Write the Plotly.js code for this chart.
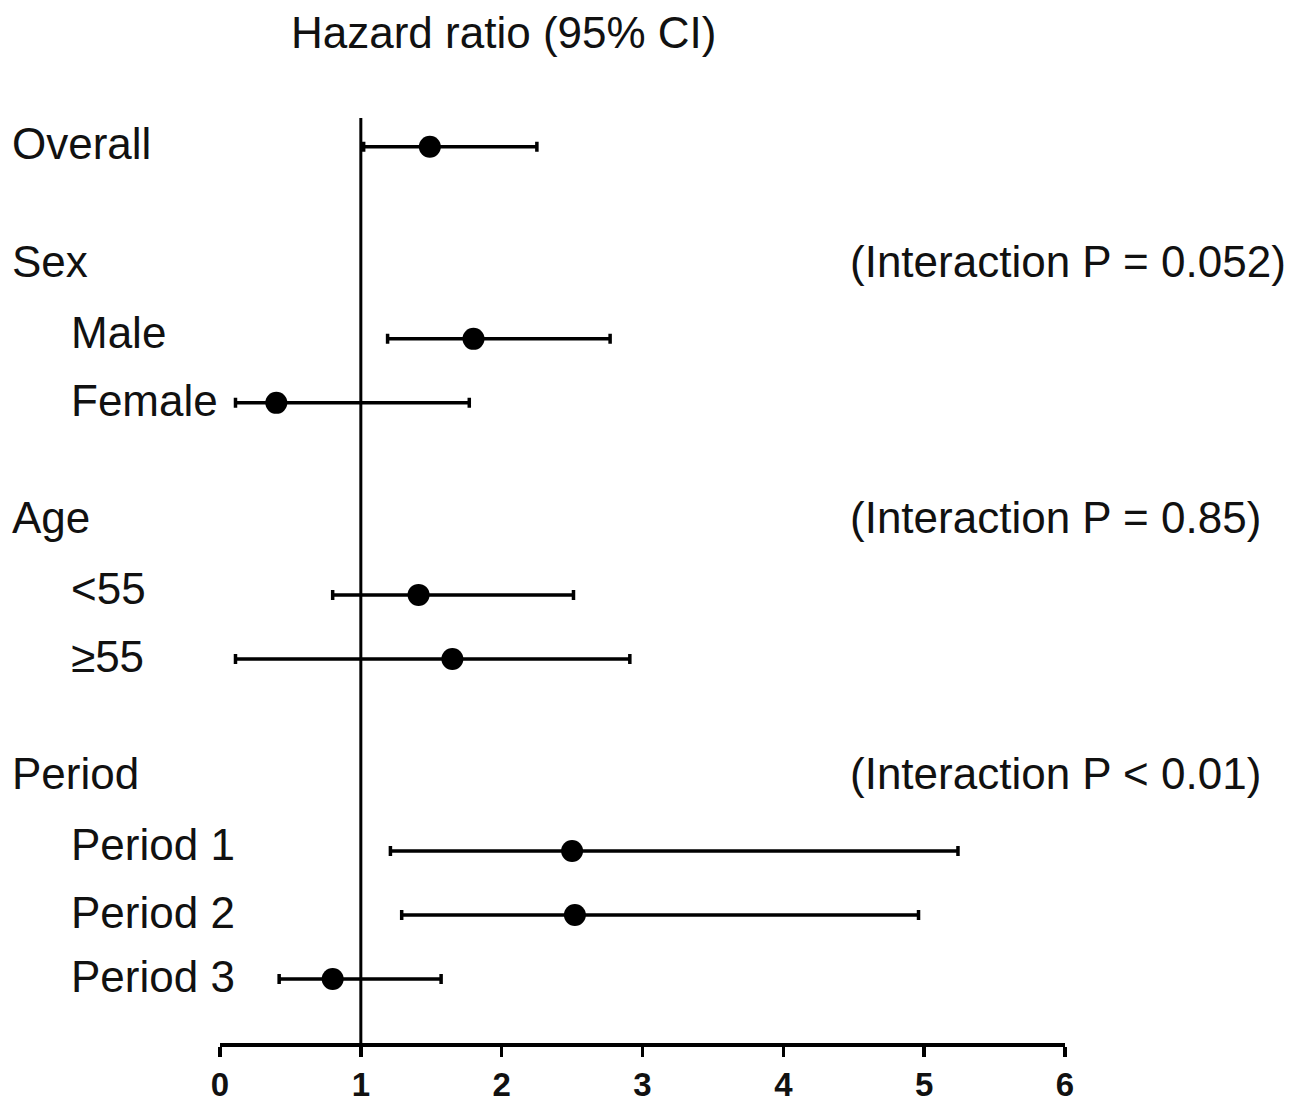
<!DOCTYPE html>
<html>
<head>
<meta charset="utf-8">
<script src="https://cdn.plot.ly/plotly-3.0.1.min.js"></script>
<style>
  html, body { margin: 0; padding: 0; background: #fff; }
  #chart { width: 1302px; height: 1102px; }
</style>
</head>
<body>
<div id="chart"></div>
<script>
// Row layout (top to bottom); blank strings are spacer rows
const rowLabels = ["Overall", "", "Sex", "Male", "Female", "", "Age", "<55", "≥55", "", "Period", "Period 1", "Period 2", "Period 3"];
const headerRows = ["Overall", "Sex", "Age", "Period"];
const firstSubRows = ["Male", "<55", "Period 1"];
const interactionText = {
  "Sex": "(Interaction P = 0.052)",
  "Age": "(Interaction P = 0.85)",
  "Period": "(Interaction P < 0.01)"
};

// Estimates (hazard ratio and 95% CI)
const estLabels = ["Overall", "Male", "Female", "<55", "≥55", "Period 1", "Period 2", "Period 3"];
const hr      = [1.49, 1.80, 0.40, 1.41, 1.65, 2.50, 2.52, 0.80];
const ciLow   = [1.02, 1.19, 0.11, 0.80, 0.11, 1.21, 1.29, 0.42];
const ciHigh  = [2.25, 2.77, 1.77, 2.51, 2.91, 5.24, 4.96, 1.57];

const xTicks = [0, 1, 2, 3, 4, 5, 6];
const refValue = 1;

const yPos = estLabels.map(l => rowLabels.indexOf(l));

const trace = {
  type: "scatter",
  mode: "markers",
  x: hr,
  y: yPos,
  marker: { color: "#000", size: 22, symbol: "circle" },
  error_x: {
    type: "data",
    symmetric: false,
    array: ciHigh.map((h, i) => h - hr[i]),
    arrayminus: ciLow.map((l, i) => hr[i] - l),
    color: "#000",
    thickness: 3.5,
    width: 5
  },
  hoverinfo: "x+y",
  showlegend: false
};

const FONT = "Liberation Sans, Arial, sans-serif";
const annotations = [];
rowLabels.forEach((lab, i) => {
  if (!lab) return;
  const isHeader = headerRows.includes(lab);
  let ys = 2;
  if (lab === "Overall") ys = 3;
  else if (isHeader) ys = 13;
  else if (firstSubRows.includes(lab)) ys = 6;
  annotations.push({
    xref: "paper", yref: "y",
    x: isHeader ? -0.2485 : -0.1787,
    y: i,
    yshift: ys,
    text: lab,
    showarrow: false,
    xanchor: "left", yanchor: "middle",
    font: { family: FONT, size: 44, color: "#111" }
  });
  if (interactionText[lab]) {
    annotations.push({
      xref: "paper", yref: "y",
      x: 0.7432, y: i, yshift: 13,
      text: interactionText[lab],
      showarrow: false,
      xanchor: "left", yanchor: "middle",
      font: { family: FONT, size: 44, color: "#111" }
    });
  }
});
annotations.push({
  xref: "paper", yref: "paper",
  x: 0.336, y: 1.092,
  text: "Hazard ratio (95% CI)",
  showarrow: false,
  xanchor: "center", yanchor: "middle",
  font: { family: FONT, size: 44, color: "#111" }
});

const layout = {
  width: 1302, height: 1102,
  margin: { l: 220, r: 237, t: 118, b: 59 },
  paper_bgcolor: "#fff", plot_bgcolor: "#fff",
  xaxis: {
    range: [0, 6],
    tickvals: xTicks,
    ticktext: xTicks.map(String),
    showgrid: false, zeroline: false,
    showline: true, linecolor: "#000", linewidth: 3.5,
    ticks: "outside", ticklen: 10, tickwidth: 3.5, tickcolor: "#000",
    tickfont: { family: FONT, size: 33, color: "#111", weight: "bold" },
    fixedrange: true
  },
  yaxis: {
    range: [14.0, -0.45],
    visible: false,
    showgrid: false, zeroline: false,
    fixedrange: true
  },
  shapes: [{
    type: "line", xref: "x", yref: "paper",
    x0: refValue, x1: refValue, y0: 0, y1: 1,
    line: { color: "#000", width: 3 }
  }],
  annotations: annotations,
  showlegend: false
};

Plotly.newPlot("chart", [trace], layout, { displayModeBar: false, staticPlot: true });
</script>
</body>
</html>
